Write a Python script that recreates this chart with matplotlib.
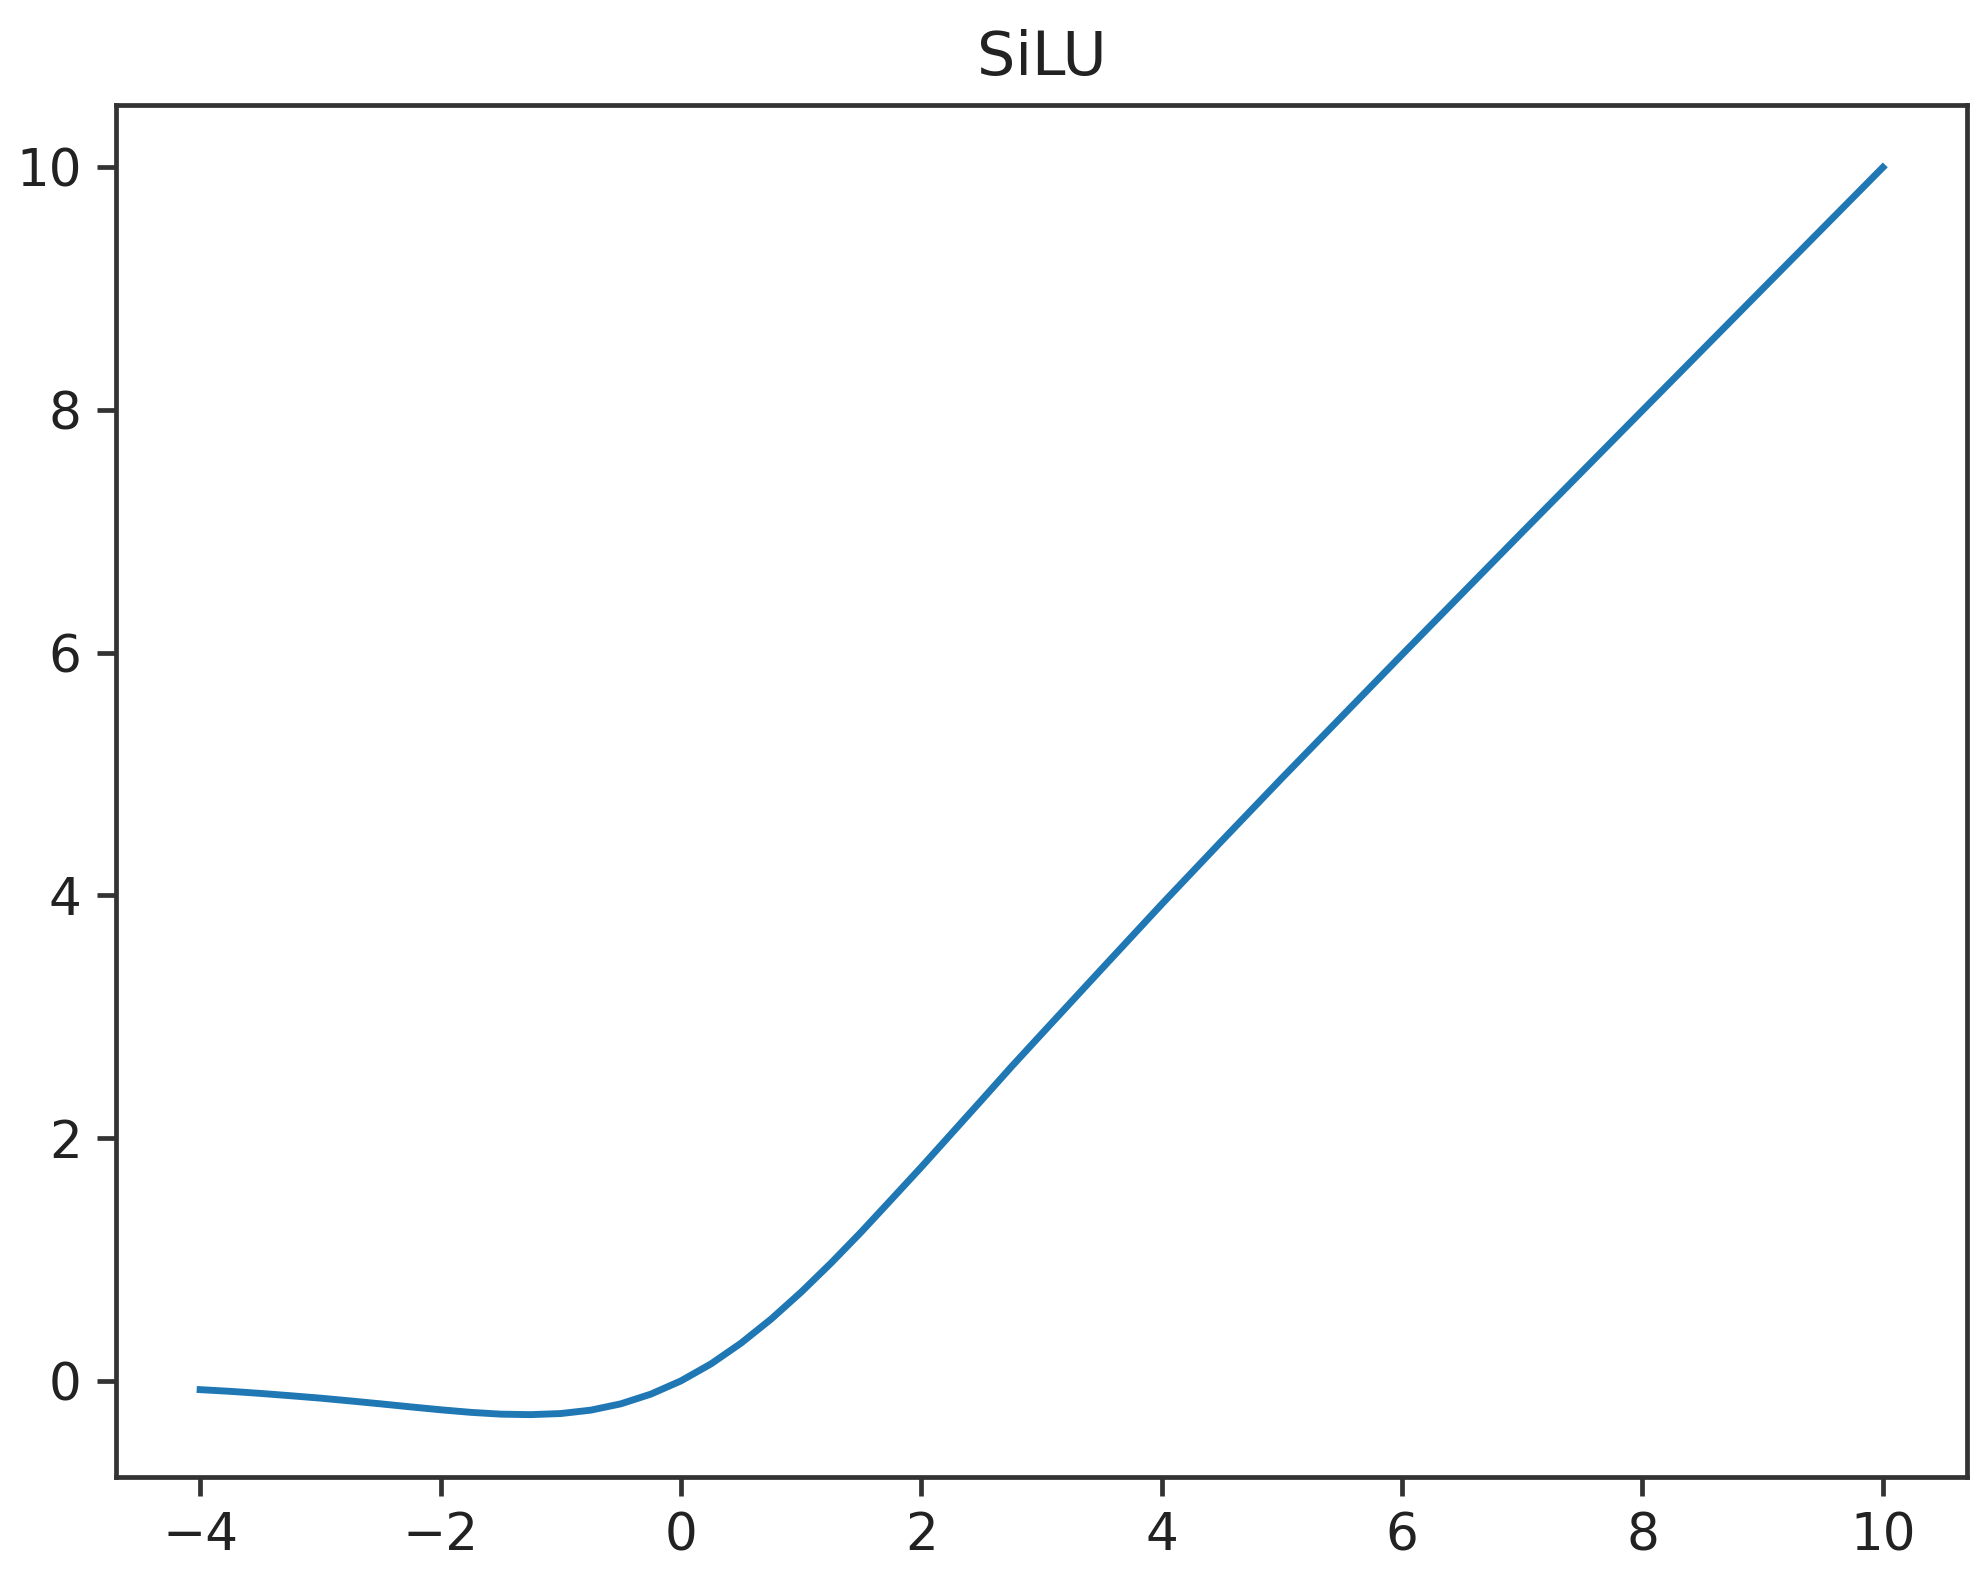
import matplotlib
matplotlib.use("Agg")
import matplotlib.pyplot as plt

# values
x_vals = [-4.0, -3.75, -3.5, -3.25, -3.0, -2.75, -2.5, -2.25, -2.0, -1.75, -1.5, -1.25,
          -1.0, -0.75, -0.5, -0.25, 0.0, 0.25, 0.5, 0.75, 1.0, 1.25, 1.5, 1.75, 2.0,
          2.25, 2.5, 2.75, 3.0, 3.5, 4.0, 4.5, 5.0, 6.0, 7.0, 8.0, 9.0, 10.0]
y_vals = [-0.072, -0.086, -0.103, -0.122, -0.142, -0.165, -0.189, -0.214, -0.238, -0.259,
          -0.274, -0.278, -0.269, -0.241, -0.189, -0.109, 0.0, 0.140, 0.311, 0.509,
          0.731, 0.972, 1.227, 1.494, 1.762, 2.037, 2.312, 2.589, 2.858, 3.394, 3.928,
          4.450, 4.967, 5.985, 6.994, 7.997, 8.999, 10.0]
title = "SiLU"
x_ticks = [-4, -2, 0, 2, 4, 6, 8, 10]
y_ticks = [0, 2, 4, 6, 8, 10]

dpi = 310
fig = plt.figure(figsize=(1983 / dpi, 1579 / dpi), dpi=dpi)
ax = fig.add_axes([116 / 1983, 1 - 1477 / 1579, (1967 - 116) / 1983, (1477 - 105) / 1579])
ax.plot(x_vals, y_vals, color="#1f77b4", linewidth=1.6)
ax.set_title(title, fontsize=14, color="#222222", pad=7)
ax.set_xticks(x_ticks)
ax.set_yticks(y_ticks)
ax.tick_params(labelsize=12, labelcolor="#222222", length=4.5, width=1.1, color="#333333")
for s in ax.spines.values():
    s.set_linewidth(1.1)
    s.set_color("#333333")
fig.savefig("out.png", dpi=dpi)
